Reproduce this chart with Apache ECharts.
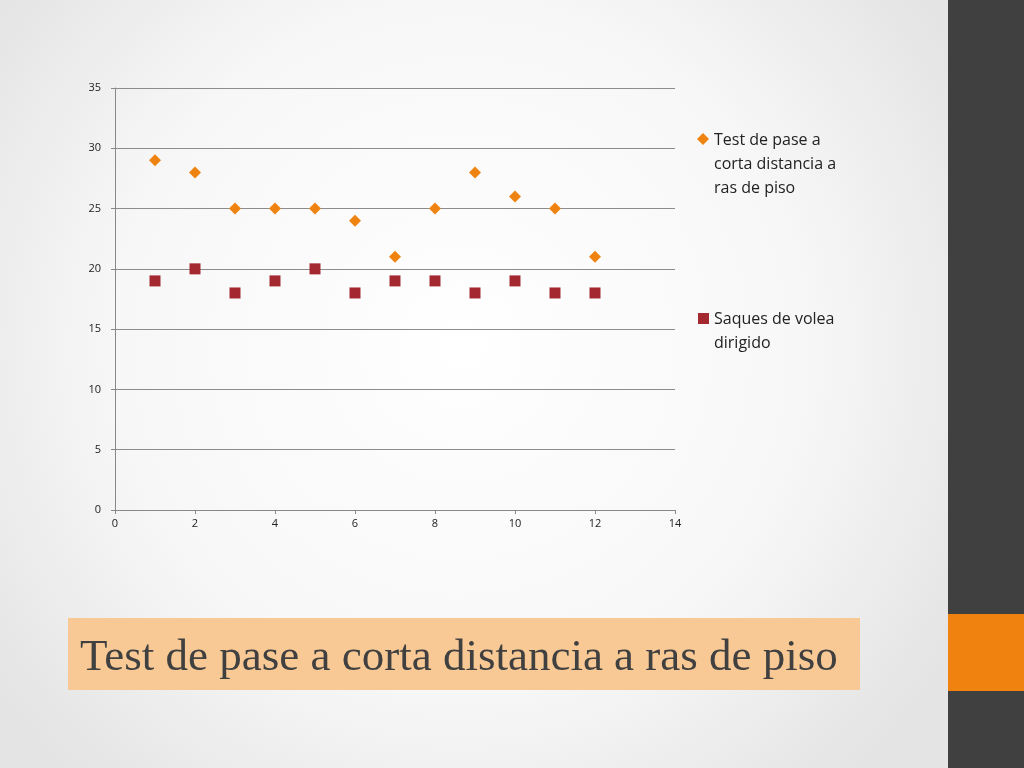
<html>
<head>
<meta charset="utf-8">
<script src="https://cdn.jsdelivr.net/npm/echarts@6/dist/echarts.min.js"></script>
<style>
html, body, #main { width: 100%; height: 100%; margin: 0; }
</style>
</head>
<body>
<div id="main"></div>
<script>
var xValues = [1, 2, 3, 4, 5, 6, 7, 8, 9, 10, 11, 12];
var paseValues = [29, 28, 25, 25, 25, 24, 21, 25, 28, 26, 25, 21];
var saquesValues = [19, 20, 18, 19, 20, 18, 19, 19, 18, 19, 18, 18];
var seriesNames = ['Test de pase a corta distancia a ras de piso', 'Saques de volea dirigido'];
var legendLabels = ['Test de pase a\ncorta distancia a\nras de piso', 'Saques de volea\ndirigido'];
var colors = ['#ef830f', '#a3282f'];

function pairs(vals) {
    return xValues.map(function (x, i) { return [x, vals[i]]; });
}

var chart = echarts.init(document.getElementById('main'));
var option = {
    animation: false,
    backgroundColor: {
        type: 'radial', x: 0.45, y: 0.45, r: 0.75,
        colorStops: [{ offset: 0, color: '#ffffff' }, { offset: 0.6, color: '#f7f7f7' }, { offset: 1, color: '#e4e4e4' }]
    },
    graphic: [
        { type: 'rect', shape: { x: 948, y: 0, width: 76, height: 768 }, style: { fill: '#404040' } },
        { type: 'rect', shape: { x: 948, y: 614, width: 76, height: 77 }, style: { fill: '#f0820f' } },
        { type: 'rect', shape: { x: 68, y: 618, width: 792, height: 72 }, style: { fill: '#f8c994' } },
        { type: 'text', x: 80, y: 658, style: { text: 'Test de pase a corta distancia a ras de piso', fill: '#404040',
            font: '45px "Liberation Serif", serif', verticalAlign: 'middle' } },
        // legend
        { type: 'polygon', shape: { points: [[703, 133], [709, 139], [703, 145], [697, 139]] }, style: { fill: colors[0] } },
        { type: 'text', x: 714, y: 128, style: { text: legendLabels[0], fill: '#222',
            font: '16px "Open Sans"', lineHeight: 24 } },
        { type: 'rect', shape: { x: 698, y: 313, width: 11, height: 11 }, style: { fill: colors[1] } },
        { type: 'text', x: 714, y: 307, style: { text: legendLabels[1], fill: '#222',
            font: '16px "Open Sans"', lineHeight: 24 } }
    ],
    grid: { left: 115, top: 88, width: 560, height: 422 },
    xAxis: {
        type: 'value', min: 0, max: 14, interval: 2,
        axisLine: { lineStyle: { color: '#888' } },
        axisTick: { show: true, length: 4, lineStyle: { color: '#888' } },
        splitLine: { show: false },
        axisLabel: { color: '#222', fontSize: 11, fontFamily: 'Open Sans' }
    },
    yAxis: {
        type: 'value', min: 0, max: 35, interval: 5,
        axisLine: { show: true, lineStyle: { color: '#888' } },
        axisTick: { show: true, length: 4, lineStyle: { color: '#888' } },
        splitLine: { lineStyle: { color: '#8c8c8c' } },
        axisLabel: { color: '#222', fontSize: 11, fontFamily: 'Open Sans', margin: 14 }
    },
    series: [
        { name: seriesNames[0], type: 'scatter', symbol: 'diamond', symbolSize: 12,
          itemStyle: { color: colors[0], opacity: 1 }, data: pairs(paseValues) },
        { name: seriesNames[1], type: 'scatter', symbol: 'rect', symbolSize: 11,
          itemStyle: { color: colors[1], opacity: 1 }, data: pairs(saquesValues) }
    ]
};
chart.setOption(option);
window.onresize = function () { chart.resize(); };
</script>
</body>
</html>
